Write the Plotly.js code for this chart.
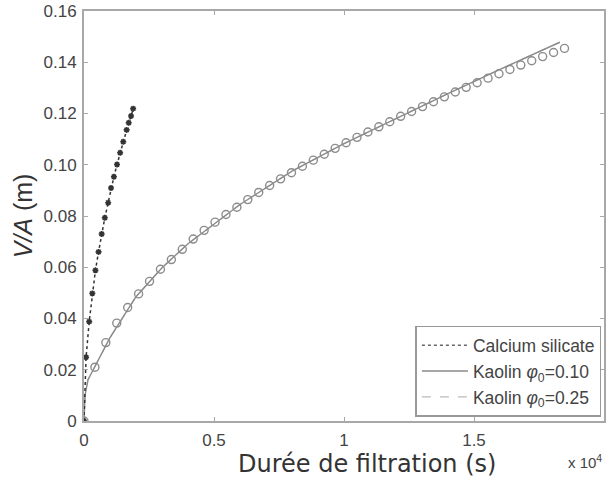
<!DOCTYPE html>
<html>
<head>
<meta charset="utf-8">
<script src="https://cdn.plot.ly/plotly-3.0.1.min.js"></script>
<style>html,body{margin:0;padding:0;background:#fff;}#chart{width:606px;height:479px;}</style>
</head>
<body>
<div id="chart"></div>
<script>
// Calcium silicate: measured points (asterisks) and model (dotted line)
const csTime = [0, 80, 200, 320, 440, 560, 680, 800, 930, 1040, 1150, 1270, 1390, 1510, 1640, 1720, 1810, 1890];
const csVA   = [0, 0.0249, 0.0388, 0.0498, 0.0588, 0.0660, 0.0730, 0.0793, 0.0852, 0.0909, 0.0953, 0.1001, 0.1047, 0.1090, 0.1136, 0.1164, 0.1190, 0.1219];

// Kaolin phi0 = 0.10: measured points (open circles)
const kaTime = [0, 420, 840, 1260, 1680, 2100, 2520, 2940, 3360, 3780, 4200, 4620, 5040, 5460, 5880,
  6300, 6720, 7140, 7560, 7980, 8400, 8820, 9240, 9660, 10080, 10500, 10920, 11340, 11760, 12180,
  12600, 13020, 13440, 13860, 14280, 14700, 15120, 15540, 15960, 16380, 16800, 17220, 17640, 18060, 18480];
const kaVA = [0, 0.0210, 0.0306, 0.0382, 0.0443, 0.0496, 0.0545, 0.0592, 0.0630, 0.0670, 0.0710, 0.0744,
  0.0776, 0.0806, 0.0834, 0.0864, 0.0892, 0.0919, 0.0945, 0.0969, 0.0994, 0.1018, 0.1041, 0.1064, 0.1086,
  0.1107, 0.1128, 0.1148, 0.1168, 0.1189, 0.1208, 0.1227, 0.1246, 0.1265, 0.1284, 0.1302, 0.1320, 0.1338,
  0.1355, 0.1372, 0.1389, 0.1406, 0.1422, 0.1438, 0.1454];

// Kaolin phi0 = 0.10 model (solid line)
const k10Time = [0, 40, 150, 430, 1000, 2000, 3000, 4000, 6000, 8000, 10000, 12000, 14000, 16000, 18300];
const k10VA   = [0, 0.0100, 0.0160, 0.0215, 0.0325, 0.0485, 0.0598, 0.0692, 0.0845, 0.0975, 0.1082, 0.1180, 0.1278, 0.1372, 0.1478];

// Kaolin phi0 = 0.25 model (dashed line)
const k25Time = [0, 40, 150, 430, 1000, 2000, 3000, 4000, 6000, 8000, 10000, 12000, 14000, 16000, 18300];
const k25VA   = [0, 0.0100, 0.0160, 0.0215, 0.0325, 0.0485, 0.0598, 0.0692, 0.0845, 0.0975, 0.1082, 0.1180, 0.1278, 0.1372, 0.1478];

const xTicks = [0, 5000, 10000, 15000, 20000];
const xTickText = ['0', '0.5', '1', '1.5', '2'];
const yTicks = [0, 0.02, 0.04, 0.06, 0.08, 0.10, 0.12, 0.14, 0.16];
const yTickText = ['0', '0.02', '0.04', '0.06', '0.08', '0.10', '0.12', '0.14', '0.16'];

const legendNames = ['Calcium silicate', 'Kaolin <i>φ</i><sub>0</sub>=0.10', 'Kaolin <i>φ</i><sub>0</sub>=0.25'];
const xTitle = 'Durée de filtration (s)';
const yTitle = '<i>V/A</i> (m)';
const xExponent = 'x 10<sup>4</sup>';

const traces = [
  {x: k25Time, y: k25VA, mode: 'lines', name: legendNames[2],
   line: {color: '#bbbbbb', width: 1.3, dash: 'dash'}, showlegend: false},
  {x: k10Time, y: k10VA, mode: 'lines', name: legendNames[1],
   line: {color: '#8a8a8a', width: 1.4}, showlegend: false},
  {x: csTime, y: csVA, mode: 'lines', name: legendNames[0],
   line: {color: '#333333', width: 1.5, dash: 'dot'}, showlegend: false},
  {x: kaTime, y: kaVA, mode: 'markers', showlegend: false, hoverinfo: 'skip',
   marker: {symbol: 'circle-open', size: 8, color: '#8c8c8c', line: {width: 1.4, color: '#8c8c8c'}}},
  {x: csTime, y: csVA, mode: 'markers', showlegend: false, hoverinfo: 'skip',
   marker: {symbol: 'asterisk-open', size: 5, color: '#333333', line: {width: 1.6, color: '#333333'}}},
  // legend entries in display order
  {x: [null], y: [null], mode: 'lines', name: legendNames[0], line: {color: '#666666', width: 1.5, dash: 'dot'}},
  {x: [null], y: [null], mode: 'lines', name: legendNames[1], line: {color: '#8a8a8a', width: 1.4}},
  {x: [null], y: [null], mode: 'lines', name: legendNames[2], line: {color: '#bbbbbb', width: 1.3, dash: 'dash'}}
];

const axisCommon = {
  showgrid: false, zeroline: false, showline: true, mirror: 'ticks',
  linecolor: '#a8a8a8', linewidth: 2, ticks: 'inside', ticklen: 4, tickwidth: 1,
  tickcolor: '#a8a8a8', tickfont: {family: 'Liberation Sans, Arial, sans-serif', size: 17, color: '#444444'}
};

const layout = {
  width: 606, height: 479,
  margin: {l: 84, r: 2, t: 11, b: 58},
  paper_bgcolor: '#ffffff', plot_bgcolor: '#ffffff',
  showlegend: true,
  legend: {x: 0.995, y: 0.01, xanchor: 'right', yanchor: 'bottom',
    bgcolor: '#ffffff', bordercolor: '#999999', borderwidth: 1.5,
    font: {family: 'Liberation Sans, Arial, sans-serif', size: 17.5, color: '#444444'},
    tracegroupgap: 0, itemwidth: 46},
  xaxis: Object.assign({}, axisCommon, {
    range: [0, 20000], tickvals: xTicks, ticktext: xTickText, ticklabelstandoff: 3
  }),
  yaxis: Object.assign({}, axisCommon, {
    range: [0, 0.16], tickvals: yTicks, ticktext: yTickText, ticklabelstandoff: 2,
    title: {text: yTitle, standoff: 4,
      font: {family: 'Liberation Sans, Arial, sans-serif', size: 25, color: '#333333'}}
  }),
  annotations: [
    {xref: 'paper', yref: 'paper', x: 0.544, y: 0, yshift: -27, xanchor: 'center', yanchor: 'top',
     text: xTitle, showarrow: false,
     font: {family: 'DejaVu Sans, sans-serif', size: 24, color: '#333333'}},
    {xref: 'paper', yref: 'paper', x: 1.0, y: 0, yshift: -52, xanchor: 'right', yanchor: 'bottom',
     text: xExponent, showarrow: false,
     font: {family: 'Liberation Sans, Arial, sans-serif', size: 15, color: '#444444'}}
  ]
};

Plotly.newPlot('chart', traces, layout, {displayModeBar: false, staticPlot: true});
</script>
</body>
</html>
